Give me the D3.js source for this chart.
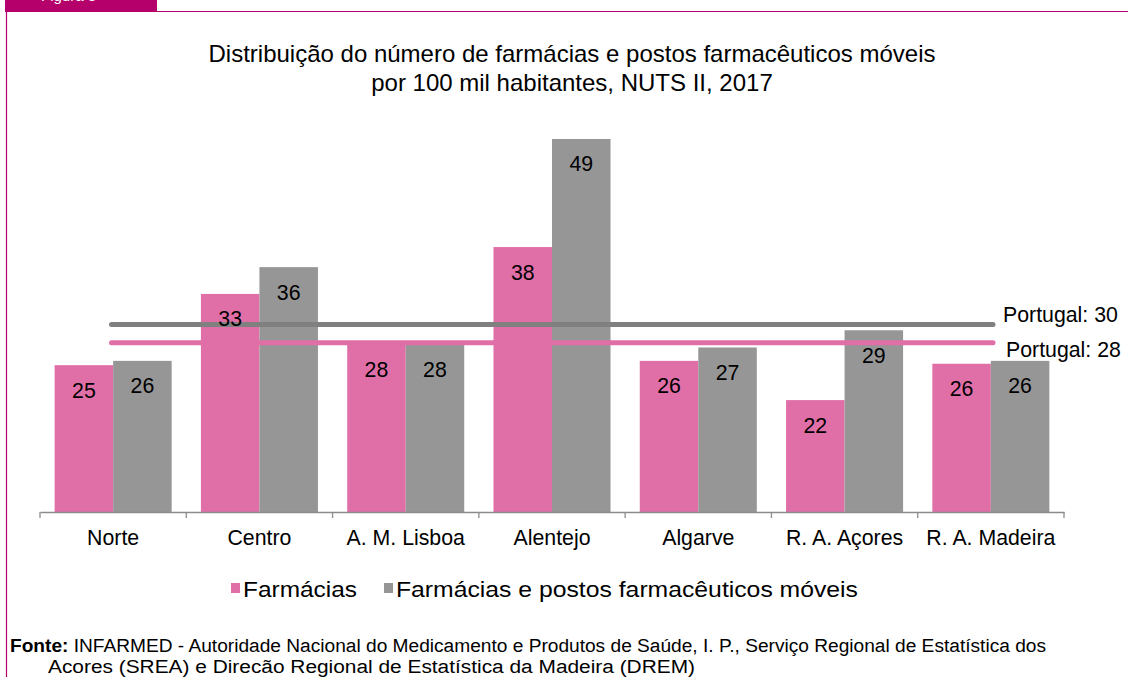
<!DOCTYPE html>
<html>
<head>
<meta charset="utf-8">
<script src="https://cdn.jsdelivr.net/npm/d3@7"></script>
<style>
  html, body { margin: 0; padding: 0; background: #fff; }
  svg { display: block; font-family: "Liberation Sans", Arial, sans-serif; }
</style>
</head>
<body>
<svg id="chart" width="1128" height="677"></svg>
<script>
// ---- data ----
const categories = ["Norte", "Centro", "A. M. Lisboa", "Alentejo", "Algarve", "R. A. Açores", "R. A. Madeira"];
const seriesNames = ["Farmácias", "Farmácias e postos farmacêuticos móveis"];
const farmacias = [25.35, 32.8, 27.55, 37.7, 25.8, 21.7, 25.5];
const farmaciasPostos = [25.8, 35.6, 27.55, 49.0, 27.2, 29.0, 25.8];
const portugalValues = [29.6, 27.7];          // Farmácias e postos / Farmácias
const portugalLabels = ["Portugal: 30", "Portugal: 28"];
const titleLines = ["Distribuição do número de farmácias e postos farmacêuticos móveis", "por 100 mil habitantes, NUTS II, 2017"];
const yDomain = [10, 50];

const colors = { pink: "#E06FA8", gray: "#969696", pinkLine: "#E06FA8", grayLine: "#808080", frame: "#B5006B" };

const svg = d3.select("#chart");

// frame
svg.append("rect").attr("x", 5).attr("y", 0).attr("width", 152).attr("height", 11).attr("fill", colors.frame);
svg.append("text").attr("x", 41).attr("y", 0.5).attr("fill", "#fff").attr("font-size", 15).text("Figura 3");
svg.append("line").attr("x1", 5).attr("x2", 1128).attr("y1", 11.5).attr("y2", 11.5).attr("stroke", colors.frame).attr("stroke-width", 1.2);
svg.append("line").attr("x1", 6.5).attr("x2", 6.5).attr("y1", 11).attr("y2", 677).attr("stroke", colors.frame).attr("stroke-width", 1.2);

// title
svg.append("text").attr("x", 572).attr("y", 61.5).attr("text-anchor", "middle").attr("font-size", 24).attr("fill", "#000")
  .selectAll("tspan").data(titleLines).join("tspan").attr("x", 572).attr("dy", (d, i) => i ? 29 : 0).text(d => d);

// scales
const x0 = d3.scaleBand().domain(categories).range([40, 1064]).paddingInner(0.2).paddingOuter(0.1);
const x1 = d3.scaleBand().domain([0, 1]).range([0, x0.bandwidth()]).padding(0);
const y = d3.scaleLinear().domain(yDomain).range([512, 129.4]);

const rows = categories.map((c, i) => ({ cat: c, vals: [farmacias[i], farmaciasPostos[i]] }));
const seriesColors = [colors.pink, colors.gray];

const g = svg.append("g");
const groups = g.selectAll("g.grp").data(rows).join("g").attr("class", "grp")
  .attr("transform", d => `translate(${x0(d.cat)},0)`);
groups.selectAll("rect").data(d => d.vals).join("rect")
  .attr("x", (d, i) => x1(i)).attr("width", x1.bandwidth())
  .attr("y", d => y(d)).attr("height", d => y(yDomain[0]) - y(d))
  .attr("fill", (d, i) => seriesColors[i]);

// Portugal lines
const lineX = [111.5, 993];
const lineColors = [colors.grayLine, colors.pinkLine];
svg.selectAll("line.pt").data(portugalValues).join("line").attr("class", "pt")
  .attr("x1", lineX[0]).attr("x2", lineX[1])
  .attr("y1", d => y(d)).attr("y2", d => y(d))
  .attr("stroke", (d, i) => lineColors[i]).attr("stroke-width", 5).attr("stroke-linecap", "round");
svg.selectAll("text.pt").data(portugalValues).join("text").attr("class", "pt")
  .attr("x", (d, i) => i ? 1006 : 1003).attr("y", (d, i) => y(d) + (i ? 14 : -3))
  .attr("font-size", 21.3).attr("fill", "#000").text((d, i) => portugalLabels[i]);

// value labels (drawn after lines)
const lbl = svg.append("g");
rows.forEach(r => {
  lbl.selectAll(null).data(r.vals).join("text")
    .attr("x", (d, i) => x0(r.cat) + x1(i) + x1.bandwidth() / 2)
    .attr("y", d => y(d) + 32.5)
    .attr("text-anchor", "middle").attr("font-size", 21.3).attr("fill", "#000")
    .text(d => Math.round(d));
});

// axis
const axis = svg.append("g").attr("transform", `translate(0,${y(yDomain[0])})`)
  .call(d3.axisBottom(x0).tickSize(0).tickPadding(17.4).tickSizeOuter(0));
axis.select(".domain").attr("stroke", "#8c8c8c").attr("stroke-width", 1.3);
axis.selectAll("text").attr("font-size", 21.3).attr("fill", "#000").attr("font-family", "Liberation Sans, Arial, sans-serif");
const bounds = categories.map(c => x0(c) - x0.step() * x0.paddingInner() / 2).concat([x0.range()[1]]);
axis.selectAll("line.bt").data(bounds).join("line").attr("class", "bt")
  .attr("x1", d => d).attr("x2", d => d).attr("y1", 0).attr("y2", 6)
  .attr("stroke", "#8c8c8c").attr("stroke-width", 1.3);

// legend
const legend = svg.append("g");
const legX = [231, 384];
const legW = [114, 462];
seriesNames.forEach((n, i) => {
  legend.append("rect").attr("x", legX[i]).attr("y", 583).attr("width", 9).attr("height", 10).attr("fill", seriesColors[i]);
  legend.append("text").attr("x", legX[i] + 12).attr("y", 597).attr("font-size", 22).attr("fill", "#000")
    .attr("textLength", legW[i]).attr("lengthAdjust", "spacingAndGlyphs").text(n);
});

// footer
const f = svg.append("text").attr("x", 10).attr("y", 652).attr("font-size", 18).attr("fill", "#000")
  .attr("textLength", 1036).attr("lengthAdjust", "spacingAndGlyphs");
f.append("tspan").attr("font-weight", "bold").text("Fonte:");
f.append("tspan").text(" INFARMED - Autoridade Nacional do Medicamento e Produtos de  Saúde, I. P., Serviço Regional de Estatística dos");
svg.append("text").attr("x", 48).attr("y", 673).attr("font-size", 18).attr("fill", "#000")
  .attr("textLength", 647).attr("lengthAdjust", "spacingAndGlyphs")
  .text("Acores (SREA) e Direcão Regional de Estatística da Madeira (DREM)");
</script>
</body>
</html>
